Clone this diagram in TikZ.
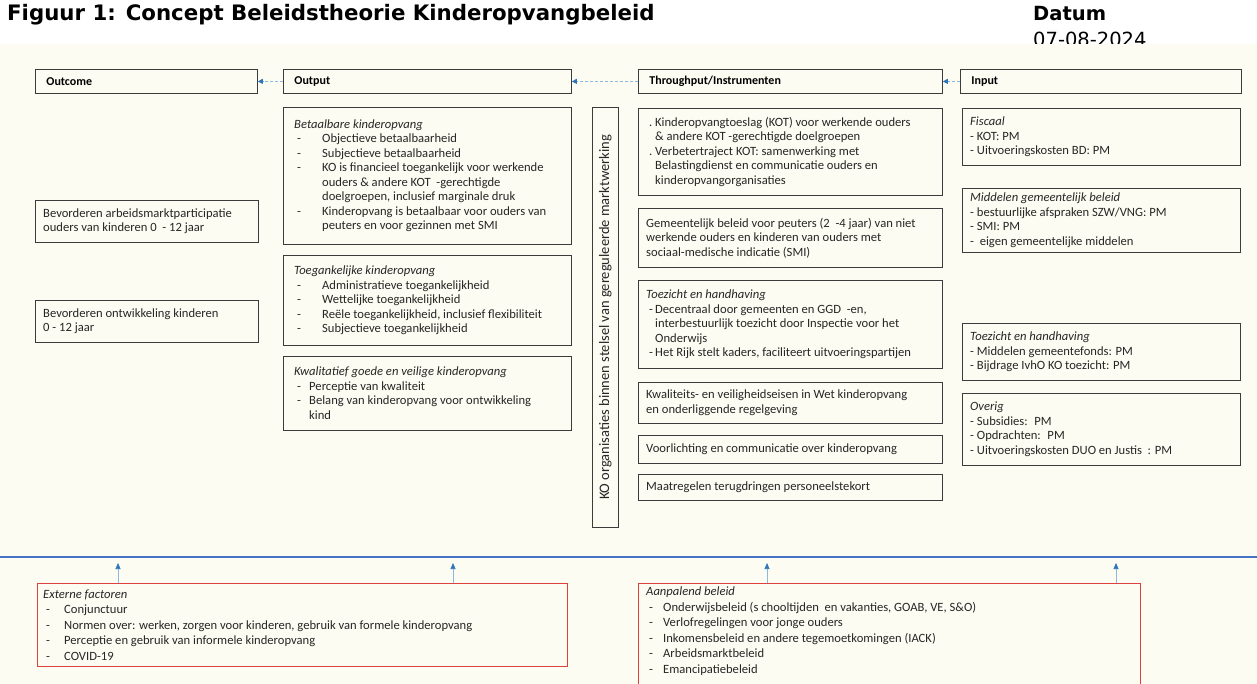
\documentclass[tikz,border=0pt]{standalone}
\usepackage{fontspec}
\setmainfont{Carlito}
\newfontfamily\verdana{DejaVu Sans}
\usepackage{xcolor}
\usepackage{tikz}
\usetikzlibrary{arrows.meta}

\definecolor{paper}{RGB}{253,252,243}
\definecolor{framegrey}{RGB}{60,60,60}
\definecolor{flowblue}{RGB}{140,185,225}
\definecolor{tipblue}{RGB}{46,117,182}
\definecolor{lineblue}{RGB}{68,114,196}
\definecolor{boxred}{RGB}{222,64,64}

\newcommand{\bodyfont}{\fontsize{12.6}{14.5}\selectfont\lineskiplimit=-20pt}
\newcommand{\lowfont}{\fontsize{12.6}{15.5}\selectfont\lineskiplimit=-20pt}
\newcommand{\bul}[2][-]{\makebox[#2][l]{\hspace{3pt}#1}}
\newcommand{\tabin}[1]{\hspace*{#1}}

\begin{document}
\begin{tikzpicture}[x=1pt, y=-1pt,
	frame/.style={draw=framegrey, line width=0.8pt, anchor=north west, inner sep=0pt},
	head/.style={frame, minimum height=24pt, inner xsep=11pt, inner ysep=0pt, align=left, font=\fontsize{12}{14}\selectfont\bfseries},
	txt/.style={inner sep=0pt, align=left, font=\bodyfont, text=black!85},
	flow/.style={draw=flowblue, densely dashed, line width=0.9pt, -{Triangle[length=5pt, width=5pt, color=tipblue]}},
	up/.style={draw=flowblue, line width=0.6pt, -{Triangle[length=6pt, width=5pt, color=tipblue]}}]

\useasboundingbox (0,0) rectangle (1257,684);
\clip (0,0) rectangle (1257,684);

\fill[white] (0,0) rectangle (1257,684);

\node[anchor=base west, inner sep=0pt, font=\verdana\bfseries\fontsize{21.3}{23}\selectfont] (title) at (7,21) {Figuur 1: Concept Beleidstheorie Kinderopvangbeleid};

\node[anchor=base west, inner sep=0pt, font=\verdana\bfseries\fontsize{19.5}{21}\selectfont] (datum) at (1033,21) {Datum};

\node[anchor=base west, inner sep=0pt, font=\verdana\fontsize{19.5}{21}\selectfont] (datumval) at (1033,47) {07-08-2024};

\fill[paper] (0,44) rectangle (1257,684);

\node[head, text width=200pt] (outcome) at (35,69) {Outcome};
\node[head, text width=266pt] (output) at (283,69) {Output};
\node[head, text width=282pt] (through) at (638,69) {Throughput/Instrumenten};
\node[head, text width=259pt] (input) at (960,69) {Input};

\draw[flow] (output.west) -- (outcome.east);
\draw[flow] (through.west) -- (output.east);
\draw[flow] (input.west) -- (through.east);

\node[frame, minimum width=223pt, minimum height=42pt] (goal1) at (35,200) {};
\node[txt, anchor=west] (goal1txt) at ([xshift=8pt]goal1.west) {Bevorderen arbeidsmarktparticipatie\\ouders van kinderen 0 \ - 12 jaar};

\node[frame, minimum width=223pt, minimum height=42pt] (goal2) at (35,300) {};
\node[txt, anchor=west] (goal2txt) at ([xshift=8pt]goal2.west) {Bevorderen ontwikkeling kinderen\\0 - 12 jaar};

\node[frame, minimum width=288pt, minimum height=137pt] (out1) at (283,107) {};
\node[txt, anchor=west] (out1txt) at ([xshift=11pt]out1.west) {\textit{Betaalbare kinderopvang}\\
\bul{28pt}Objectieve betaalbaarheid\\
\bul{28pt}Subjectieve betaalbaarheid\\
\bul{28pt}KO is financieel toegankelijk voor werkende\\
\tabin{28pt}ouders \& andere KOT \ -gerechtigde\\
\tabin{28pt}doelgroepen, inclusief marginale druk\\
\bul{28pt}Kinderopvang is betaalbaar voor ouders van\\
\tabin{28pt}peuters en voor gezinnen met SMI};

\node[frame, minimum width=288pt, minimum height=90pt] (out2) at (283,255) {};
\node[txt, anchor=west] (out2txt) at ([xshift=11pt]out2.west) {\textit{Toegankelijke kinderopvang}\\
\bul{28pt}Administratieve toegankelijkheid\\
\bul{28pt}Wettelijke toegankelijkheid\\
\bul{28pt}Reële toegankelijkheid, inclusief flexibiliteit\\
\bul{28pt}Subjectieve toegankelijkheid};

\node[frame, minimum width=288pt, minimum height=74pt] (out3) at (283,356) {};
\node[txt, anchor=west] (out3txt) at ([xshift=11pt]out3.west) {\textit{Kwalitatief goede en veilige kinderopvang}\\
\bul{15pt}Perceptie van kwaliteit\\
\bul{15pt}Belang van kinderopvang voor ontwikkeling\\
\tabin{15pt}kind};

\node[frame, minimum width=26pt, minimum height=420pt] (ko) at (592,107) {};
\node[txt, rotate=90, font=\fontsize{14.5}{16}\selectfont] (kotxt) at (ko.center) {KO organisaties binnen stelsel van gereguleerde marktwerking};

\node[frame, minimum width=304pt, minimum height=87pt] (thr1) at (638,108) {};
\node[txt, anchor=west] (thr1txt) at ([xshift=8pt]thr1.west) {\bul[.]{9pt}Kinderopvangtoeslag (KOT) voor werkende ouders\\
\tabin{9pt}\& andere KOT -gerechtigde doelgroepen\\
\bul[.]{9pt}Verbetertraject KOT: samenwerking met\\
\tabin{9pt}Belastingdienst en communicatie ouders en\\
\tabin{9pt}kinderopvangorganisaties};

\node[frame, minimum width=304pt, minimum height=59pt] (thr2) at (638,208) {};
\node[txt, anchor=west] (thr2txt) at ([xshift=8pt]thr2.west) {Gemeentelijk beleid voor peuters (2 \ -4 jaar) van niet\\
werkende ouders en kinderen van ouders met\\
sociaal-medische indicatie (SMI)};

\node[frame, minimum width=304pt, minimum height=88pt] (thr3) at (638,280) {};
\node[txt, anchor=west] (thr3txt) at ([xshift=8pt]thr3.west) {\textit{Toezicht en handhaving}\\
\bul{9pt}Decentraal door gemeenten en GGD \ -en,\\
\tabin{9pt}interbestuurlijk toezicht door Inspectie voor het\\
\tabin{9pt}Onderwijs\\
\bul{9pt}Het Rijk stelt kaders, faciliteert uitvoeringspartijen};

\node[frame, minimum width=304pt, minimum height=41pt] (thr4) at (638,382) {};
\node[txt, anchor=west] (thr4txt) at ([xshift=8pt]thr4.west) {Kwaliteits- en veiligheidseisen in Wet kinderopvang\\
en onderliggende regelgeving};

\node[frame, minimum width=304pt, minimum height=28pt] (thr5) at (638,435) {};
\node[txt, anchor=west] (thr5txt) at ([xshift=8pt]thr5.west) {Voorlichting en communicatie over kinderopvang};

\node[frame, minimum width=304pt, minimum height=26pt] (thr6) at (638,474) {};
\node[txt, anchor=west] (thr6txt) at ([xshift=8pt]thr6.west) {Maatregelen terugdringen personeelstekort};

\node[frame, minimum width=278pt, minimum height=57pt] (in1) at (962,108) {};
\node[txt, anchor=west] (in1txt) at ([xshift=8pt]in1.west) {\textit{Fiscaal}\\
- KOT: PM\\
- Uitvoeringskosten BD: PM};

\node[frame, minimum width=278pt, minimum height=64pt] (in2) at (962,188) {};
\node[txt, anchor=west] (in2txt) at ([xshift=8pt]in2.west) {\textit{Middelen gemeentelijk beleid}\\
- bestuurlijke afspraken SZW/VNG: PM\\
- SMI: PM\\
- \ eigen gemeentelijke middelen};

\node[frame, minimum width=278pt, minimum height=57pt] (in3) at (962,323) {};
\node[txt, anchor=west] (in3txt) at ([xshift=8pt]in3.west) {\textit{Toezicht en handhaving}\\
- Middelen gemeentefonds: PM\\
- Bijdrage IvhO KO toezicht: PM};

\node[frame, minimum width=278pt, minimum height=72pt] (in4) at (962,393) {};
\node[txt, anchor=west] (in4txt) at ([xshift=8pt]in4.west) {\textit{Overig}\\
- Subsidies: \ PM\\
- Opdrachten: \ PM\\
- Uitvoeringskosten DUO en Justis \ : PM};

\coordinate (barL) at (0,557);
\coordinate (barR) at (1257,557);
\draw[lineblue, line width=1.6pt] (barL) -- (barR);

\node[frame, draw=boxred, line width=1pt, minimum width=530pt, minimum height=83pt] (ext) at (37,583) {};
\node[txt, anchor=west, font=\lowfont] (exttxt) at ([xshift=6pt]ext.west) {\textit{Externe factoren}\\
\bul{21pt}Conjunctuur\\
\bul{21pt}Normen over: werken, zorgen voor kinderen, gebruik van formele kinderopvang\\
\bul{21pt}Perceptie en gebruik van informele kinderopvang\\
\bul{21pt}COVID-19};

\node[frame, draw=boxred, line width=1pt, minimum width=502pt, minimum height=130pt] (adj) at (638,583) {};
\node[txt, anchor=north west, font=\lowfont] (adjtxt) at ([xshift=8pt, yshift=-4pt]adj.north west) {\textit{Aanpalend beleid}\\
\bul{17pt}Onderwijsbeleid (s chooltijden \ en vakanties, GOAB, VE, S\&O)\\
\bul{17pt}Verlofregelingen voor jonge ouders\\
\bul{17pt}Inkomensbeleid en andere tegemoetkomingen (IACK)\\
\bul{17pt}Arbeidsmarktbeleid\\
\bul{17pt}Emancipatiebeleid};

\coordinate (up1) at (118,563);
\coordinate (up2) at (453,563);
\coordinate (up3) at (767,563);
\coordinate (up4) at (1116,563);

\draw[up] (up1 |- ext.north) -- (up1);
\draw[up] (up2 |- ext.north) -- (up2);
\draw[up] (up3 |- adj.north) -- (up3);
\draw[up] (up4 |- adj.north) -- (up4);

\end{tikzpicture}
\end{document}
